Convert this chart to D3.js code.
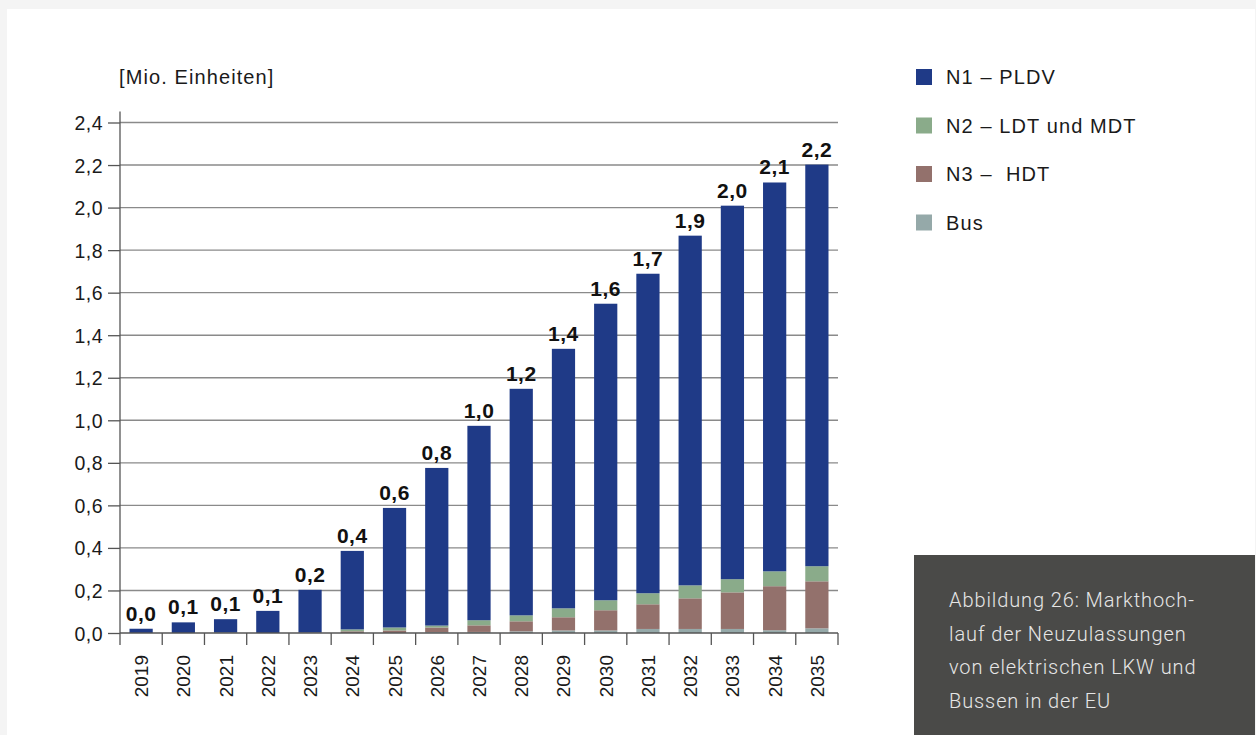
<!DOCTYPE html>
<html>
<head>
<meta charset="utf-8">
<script src="https://cdn.jsdelivr.net/npm/d3@7"></script>
<style>
  html, body { margin: 0; padding: 0; background: #f4f4f4; }
  svg { display: block; }
</style>
</head>
<body>
<svg id="chart" width="1256" height="735"></svg>
<script>
const years = ["2019","2020","2021","2022","2023","2024","2025","2026","2027","2028","2029","2030","2031","2032","2033","2034","2035"];
const totals = [0.020, 0.050, 0.065, 0.104, 0.203, 0.386, 0.588, 0.776, 0.974, 1.148, 1.336, 1.548, 1.689, 1.868, 2.009, 2.118, 2.202];
const totalLabels = ["0,0","0,1","0,1","0,1","0,2","0,4","0,6","0,8","1,0","1,2","1,4","1,6","1,7","1,9","2,0","2,1","2,2"];
const bus = [0.000, 0.000, 0.000, 0.000, 0.000, 0.000, 0.000, 0.004, 0.005, 0.008, 0.012, 0.012, 0.019, 0.019, 0.019, 0.013, 0.022];
const n3  = [0.000, 0.000, 0.000, 0.000, 0.002, 0.008, 0.012, 0.022, 0.031, 0.047, 0.062, 0.095, 0.116, 0.144, 0.172, 0.207, 0.221];
const n2  = [0.000, 0.000, 0.002, 0.000, 0.000, 0.009, 0.014, 0.009, 0.024, 0.028, 0.042, 0.047, 0.052, 0.061, 0.062, 0.070, 0.071];
const n1  = totals.map((t, i) => +(t - bus[i] - n3[i] - n2[i]).toFixed(3));
const yTicks = [0, 0.2, 0.4, 0.6, 0.8, 1.0, 1.2, 1.4, 1.6, 1.8, 2.0, 2.2, 2.4];
const seriesKeys = ["Bus", "N3", "N2", "N1"];
const seriesData = { Bus: bus, N3: n3, N2: n2, N1: n1 };
const colors = { N1: "#1f3a87", N2: "#8aab8a", N3: "#93716c", Bus: "#95a9a9" };
const legendItems = [
  { key: "N1", label: "N1 – PLDV" },
  { key: "N2", label: "N2 – LDT und MDT" },
  { key: "N3", label: "N3 –  HDT" },
  { key: "Bus", label: "Bus" }
];
const unitLabel = "[Mio. Einheiten]";
const captionLines = ["Abbildung 26: Markthoch-", "lauf der Neuzulassungen", "von elektrischen LKW und", "Bussen in der EU"];

const svg = d3.select("#chart");
const font = "'Liberation Sans', Arial, sans-serif";

// card
svg.append("rect").attr("x", 7).attr("y", 9).attr("width", 1248).attr("height", 726).attr("fill", "#ffffff");

const x0 = 120, x1 = 838, yTop = 122.5, yBot = 633;
const x = d3.scaleBand().domain(years).range([x0, x1]).paddingInner(0.45).paddingOuter(0.225);
const y = d3.scaleLinear().domain([0, 2.4]).range([yBot, yTop]);
const fmt = v => d3.format(".1f")(v).replace(".", ",");

// grid
svg.append("g").selectAll("line").data(yTicks.slice(1)).join("line")
  .attr("x1", x0).attr("x2", x1)
  .attr("y1", d => y(d)).attr("y2", d => y(d))
  .attr("stroke", "#8a8a8a").attr("stroke-width", 1.4);

// stacks
const table = years.map((yr, i) => {
  const o = { year: yr };
  seriesKeys.forEach(k => o[k] = seriesData[k][i]);
  return o;
});
const stack = d3.stack().keys(seriesKeys)(table);
svg.append("g").selectAll("g").data(stack).join("g")
  .attr("fill", d => colors[d.key])
  .selectAll("rect").data(d => d).join("rect")
  .attr("x", d => x(d.data.year))
  .attr("width", x.bandwidth())
  .attr("y", d => y(d[1]))
  .attr("height", d => Math.max(0, y(d[0]) - y(d[1])));

// y axis
const yAxis = svg.append("g").attr("transform", `translate(${x0},0)`)
  .call(d3.axisLeft(y).tickValues(yTicks).tickSize(12).tickFormat(fmt));
yAxis.select(".domain").attr("d", `M0,111.5V${yBot}`).attr("stroke", "#555").attr("stroke-width", 1.3);
yAxis.selectAll(".tick line").attr("stroke", "#555").attr("stroke-width", 1.3);
yAxis.selectAll(".tick text").attr("x", -17).attr("dy", "0.36em").attr("font-family", font)
  .attr("font-size", 19.5).attr("letter-spacing", 0.5).attr("fill", "#1a1a1a");

// x axis
const xAxisG = svg.append("g").attr("transform", `translate(0,${yBot})`);
xAxisG.append("line").attr("x1", x0).attr("x2", x1).attr("y1", 0).attr("y2", 0).attr("stroke", "#555").attr("stroke-width", 1.3);
const bounds = d3.range(years.length + 1).map(i => x0 + i * (x1 - x0) / years.length);
xAxisG.selectAll("line.tk").data(bounds).join("line").attr("class", "tk")
  .attr("x1", d => d).attr("x2", d => d).attr("y1", 0).attr("y2", 12)
  .attr("stroke", "#555").attr("stroke-width", 1.3);
xAxisG.selectAll("text").data(years).join("text")
  .attr("transform", d => `translate(${x(d) + x.bandwidth() / 2 + 7},22) rotate(-90)`)
  .attr("text-anchor", "end")
  .attr("font-family", font).attr("font-size", 19).attr("fill", "#1a1a1a")
  .text(d => d);

// value labels
svg.append("g").selectAll("text").data(years).join("text")
  .attr("x", d => x(d) + x.bandwidth() / 2)
  .attr("y", (d, i) => y(totals[i]) - 8)
  .attr("text-anchor", "middle")
  .attr("font-family", font).attr("font-weight", "bold")
  .attr("font-size", 21).attr("letter-spacing", 0.5).attr("fill", "#111")
  .text((d, i) => totalLabels[i]);

// unit label
svg.append("text").attr("x", 119).attr("y", 84)
  .attr("font-family", font).attr("font-size", 20).attr("letter-spacing", 1.1)
  .attr("fill", "#1a1a1a").text(unitLabel);

// legend
const lg = svg.append("g").selectAll("g").data(legendItems).join("g")
  .attr("transform", (d, i) => `translate(916,${69 + i * 48.5})`);
lg.append("rect").attr("width", 16).attr("height", 16).attr("fill", d => colors[d.key]);
lg.append("text").attr("x", 30).attr("y", 15)
  .attr("font-family", font).attr("font-size", 20).attr("letter-spacing", 1.1).attr("fill", "#1a1a1a")
  .attr("xml:space", "preserve").style("white-space", "pre")
  .text(d => d.label);

// caption box
svg.append("rect").attr("x", 914).attr("y", 555).attr("width", 341).attr("height", 180).attr("fill", "#4a4a48");
svg.append("g").selectAll("text").data(captionLines).join("text")
  .attr("x", 949).attr("y", (d, i) => 607 + i * 33.5)
  .attr("font-family", "Roboto, sans-serif").attr("font-weight", 300)
  .attr("font-size", 20).attr("letter-spacing", 0.9).attr("fill", "#e6e6e6")
  .text(d => d);
</script>
</body>
</html>
